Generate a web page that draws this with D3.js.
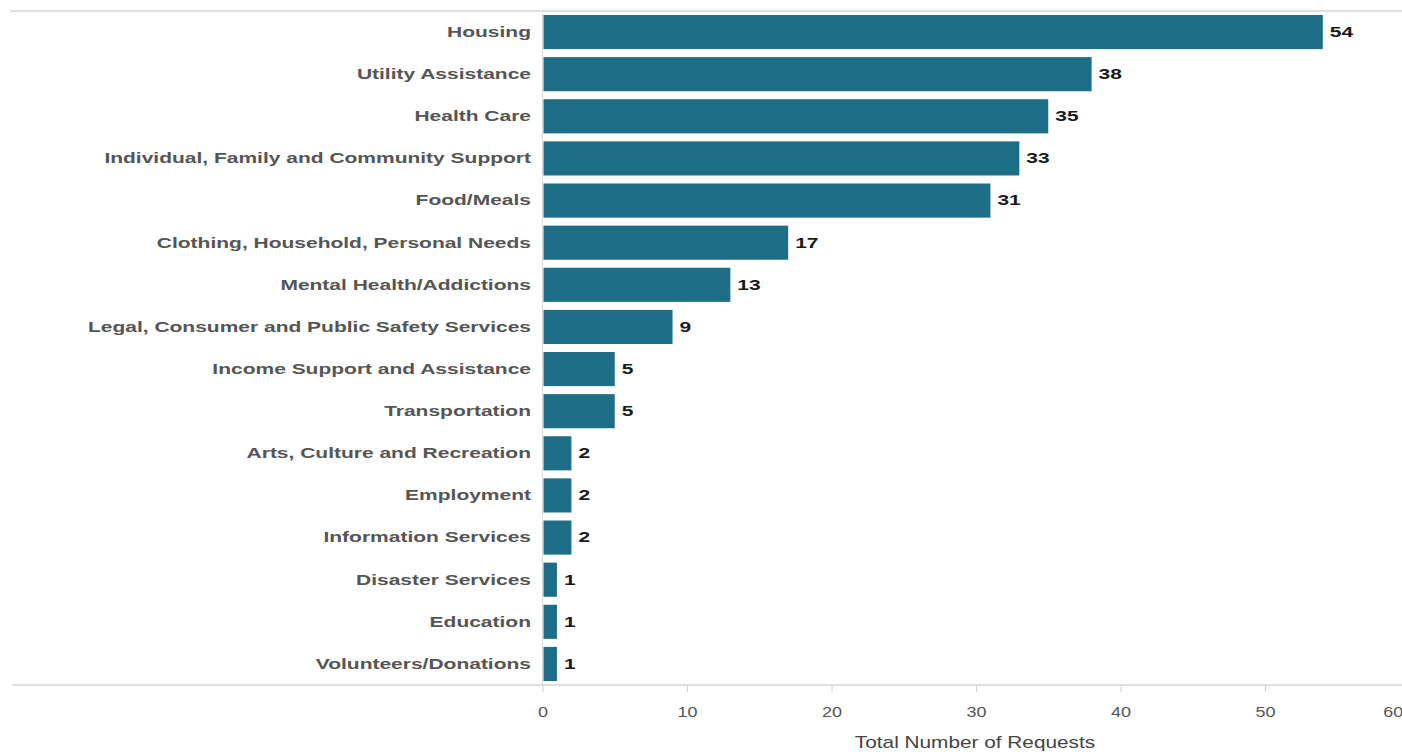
<!DOCTYPE html>
<html><head><meta charset="utf-8">
<script src="https://cdn.jsdelivr.net/npm/d3@7"></script>
<style>body{margin:0;background:#fff;} svg{display:block;}</style>
</head><body>
<svg id="chart" width="1402" height="752"></svg>
<script>
const categories = ["Housing","Utility Assistance","Health Care","Individual, Family and Community Support","Food/Meals","Clothing, Household, Personal Needs","Mental Health/Addictions","Legal, Consumer and Public Safety Services","Income Support and Assistance","Transportation","Arts, Culture and Recreation","Employment","Information Services","Disaster Services","Education","Volunteers/Donations"];
const values = [54,38,35,33,31,17,13,9,5,5,2,2,2,1,1,1];
const xTicks = [0,10,20,30,40,50,60];
const axisTitle = "Total Number of Requests";

const svg = d3.select("#chart");
const x = d3.scaleLinear().domain([0,60]).range([542.5,1409.5]);
const y = d3.scaleBand().domain(categories).range([11,685]).paddingInner(0.19).paddingOuter(0.095);
const font = "'Liberation Sans', Arial, sans-serif";
const SX = 1.5;

// frame lines
svg.append("line").attr("x1",10).attr("x2",1402).attr("y1",11).attr("y2",11).attr("stroke","#d4d4d4").attr("stroke-width",1.5);
svg.append("line").attr("x1",542.5).attr("x2",542.5).attr("y1",11).attr("y2",685).attr("stroke","#dadada").attr("stroke-width",1);

// bars
svg.append("g").selectAll("rect").data(categories).join("rect")
  .attr("x", x(0)+1).attr("y", d=>y(d)).attr("height", y.bandwidth())
  .attr("width", (d,i)=>x(values[i])-x(0)-1).attr("fill","#1f6e87");

// value labels (horizontally stretched like the reference's font)
svg.append("g").selectAll("text").data(categories).join("text")
  .attr("transform",(d,i)=>`translate(${x(values[i])+7},${y(d)+y.bandwidth()/2}) scale(${SX},1)`)
  .attr("dy","0.35em")
  .attr("font-family",font).attr("font-size",14).attr("font-weight","bold").attr("fill","#1a1a1a")
  .text((d,i)=>values[i]);

// category labels
svg.append("g").selectAll("text").data(categories).join("text")
  .attr("transform",d=>`translate(531,${y(d)+y.bandwidth()/2}) scale(${SX},1)`)
  .attr("dy","0.35em").attr("text-anchor","end")
  .attr("font-family",font).attr("font-size",14).attr("font-weight","bold").attr("fill","#555")
  .text(d=>d);

// x axis
const ax = svg.append("g").attr("transform","translate(0,685)")
  .call(d3.axisBottom(x).tickValues(xTicks).tickSize(7).tickPadding(14));
ax.select(".domain").remove();
ax.selectAll(".tick line").attr("stroke","#d0d0d0");
ax.selectAll(".tick text").attr("font-family",font).attr("font-size",15).attr("fill","#555")
  .attr("transform","scale(1.2,1)")
  .attr("x",function(){ return 0; });
// Scale text around its anchor: wrap in transform on tick groups via text x shift
ax.selectAll(".tick").each(function(d){
  const t = d3.select(this).select("text");
  t.attr("transform", null).attr("transform","scale(1.2,1)");
});
// last tick label shifted inward as in the reference
ax.selectAll(".tick").filter(d=>d===60).select("line").remove();
ax.selectAll(".tick").filter(d=>d===60).select("text").attr("x",-14);
svg.append("line").attr("x1",12).attr("x2",1402).attr("y1",685).attr("y2",685).attr("stroke","#d4d4d4").attr("stroke-width",1.5);

svg.append("text").attr("transform","translate(975,748) scale(1.3,1)").attr("text-anchor","middle")
  .attr("font-family",font).attr("font-size",16).attr("fill","#444").text(axisTitle);
</script>
</body></html>
